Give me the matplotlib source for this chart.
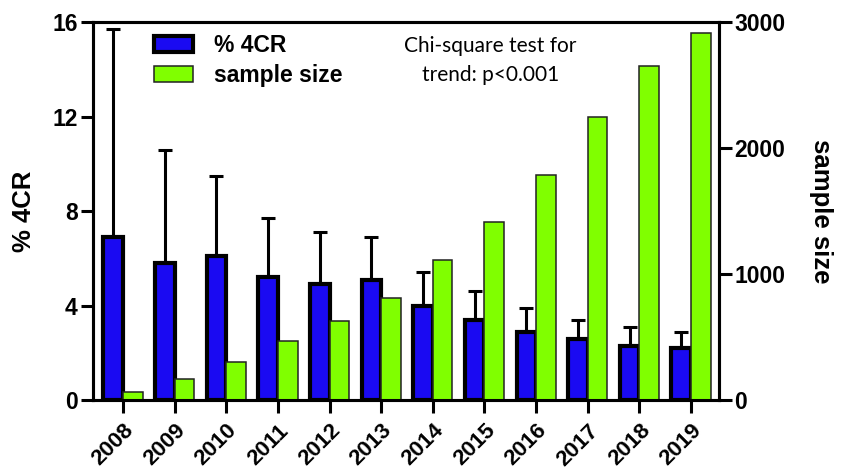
import numpy as np
import matplotlib
matplotlib.use('Agg')
import matplotlib.pyplot as plt

plt.rcParams['font.family'] = ['Liberation Sans', 'DejaVu Sans']
plt.rcParams['font.weight'] = 'bold'

years = ['2008', '2009', '2010', '2011', '2012', '2013',
         '2014', '2015', '2016', '2017', '2018', '2019']
pct_4cr = [6.9, 5.8, 6.1, 5.2, 4.9, 5.1, 4.0, 3.4, 2.9, 2.6, 2.3, 2.2]
pct_upper = [15.7, 10.6, 9.5, 7.7, 7.1, 6.9, 5.4, 4.6, 3.9, 3.4, 3.1, 2.9]
sample_size = [65, 165, 300, 470, 630, 810, 1110, 1410, 1785, 2250, 2650, 2910]

blue = '#1a0af2'
green = '#80ff00'

x = np.arange(len(years))
w = 0.38
pct = np.array(pct_4cr)
err_up = np.array(pct_upper) - pct

fig = plt.figure(figsize=(8.43, 4.72), dpi=100)
ax1 = fig.add_axes([0.1103, 0.1525, 0.7426, 0.8009])
ax2 = ax1.twinx()

b1 = ax1.bar(x - w / 2, pct, w, color=blue, edgecolor='black', linewidth=3, zorder=2)
ax1.errorbar(x - w / 2, pct, yerr=[np.zeros_like(pct), err_up], fmt='none',
             ecolor='black', elinewidth=2.2, capsize=5, capthick=2.2, zorder=1)
b2 = ax2.bar(x + w / 2, sample_size, w, color=green, edgecolor='#222222', linewidth=1.1)

ax1.set_xlim(-0.58, 11.54)
ax1.set_ylim(0, 16)
ax1.set_yticks([0, 4, 8, 12, 16])
ax2.set_ylim(0, 3000)
ax2.set_yticks([0, 1000, 2000, 3000])

ax1.set_xticks(x)
ax1.set_xticklabels(years, rotation=45, ha='right', rotation_mode='anchor')

for ax in (ax1, ax2):
    for s in ax.spines.values():
        s.set_linewidth(2.2)
    ax.tick_params(axis='both', width=2.2, length=9, labelsize=16.5, pad=2)
ax1.tick_params(axis='x', length=9.5, labelsize=16, pad=5)

ax1.set_ylabel('% 4CR', fontsize=18.5, fontweight='bold', labelpad=12)
ax2.set_ylabel('sample size', fontsize=18.5, fontweight='bold', rotation=270, labelpad=34)

ax2.legend([b1, b2], ['% 4CR', 'sample size'], loc='upper left',
           bbox_to_anchor=(0.072, 1.01), frameon=False, fontsize=16.5,
           handlelength=1.7, handleheight=0.7, handletextpad=0.9,
           labelspacing=0.3, borderaxespad=0.3)

ax2.text(0.635, 0.962, 'Chi-square test for\ntrend: p<0.001', transform=ax2.transAxes,
         ha='center', va='top', fontsize=15, fontweight='normal',
         family=['Lato', 'DejaVu Sans'], linespacing=1.55)

fig.savefig('out.png', dpi=100)
